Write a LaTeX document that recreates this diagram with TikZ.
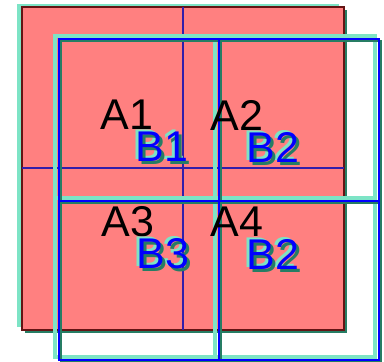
\documentclass[tikz,border=0pt]{standalone}
\usepackage{fontspec}
\setmainfont{Liberation Sans}
\definecolor{aqua}{RGB}{125,228,198}
\definecolor{deepteal}{RGB}{38,125,100}
\definecolor{cellred}{RGB}{255,128,128}
\definecolor{edgered}{RGB}{100,20,20}
\definecolor{divblue}{RGB}{50,30,170}
\begin{document}
\begin{tikzpicture}[x=0.5pt,y=-0.5pt,
  lbl/.style={font=\fontsize{21.5}{26}\selectfont, inner sep=0pt},
  hi/.style={lbl, shift={(-3,-2)}, text=aqua},
  lo/.style={lbl, shift={(3,3)}, text=deepteal}]
\useasboundingbox (0,0) rectangle (384,362);
% grid A and its shadows
\fill[aqua] (17,4) rectangle (339,327);
\fill[deepteal] (25,10) rectangle (347,333);
\draw[fill=cellred, draw=edgered, line width=0.75pt] (22,7) rectangle (344,330);
\draw[divblue, line width=0.6pt] (183,7) -- (183,330) (22,168) -- (344,168);
% grid B, drawn three times
\foreach \s/\c/\w in {{-4,-3}/aqua/1.75pt, {2,2}/deepteal/1pt, {0,0}/blue/0.7pt} {
  \draw[\c, line width=\w, shift={(\s)}] (59,39) rectangle (379,360)
    (219,39) -- (219,360) (59,201) -- (379,201);
}
% labels
\node (a1) [lbl] at (127,115) {A1};
\node (a2) [lbl] at (237,115) {A2};
\node (a3) [lbl] at (128,222) {A3};
\node (a4) [lbl] at (237,222) {A4};
\foreach \n/\p/\t in {b1/{162,147}/B1, b2/{273,147}/B2, b3/{163,254}/B3, b4/{273,254}/B2} {
  \node (\n-hi) [hi] at (\p) {\t};
  \node (\n-lo) [lo] at (\p) {\t};
  \node (\n) [lbl, text=blue] at (\p) {\t};
}
\end{tikzpicture}
\end{document}
